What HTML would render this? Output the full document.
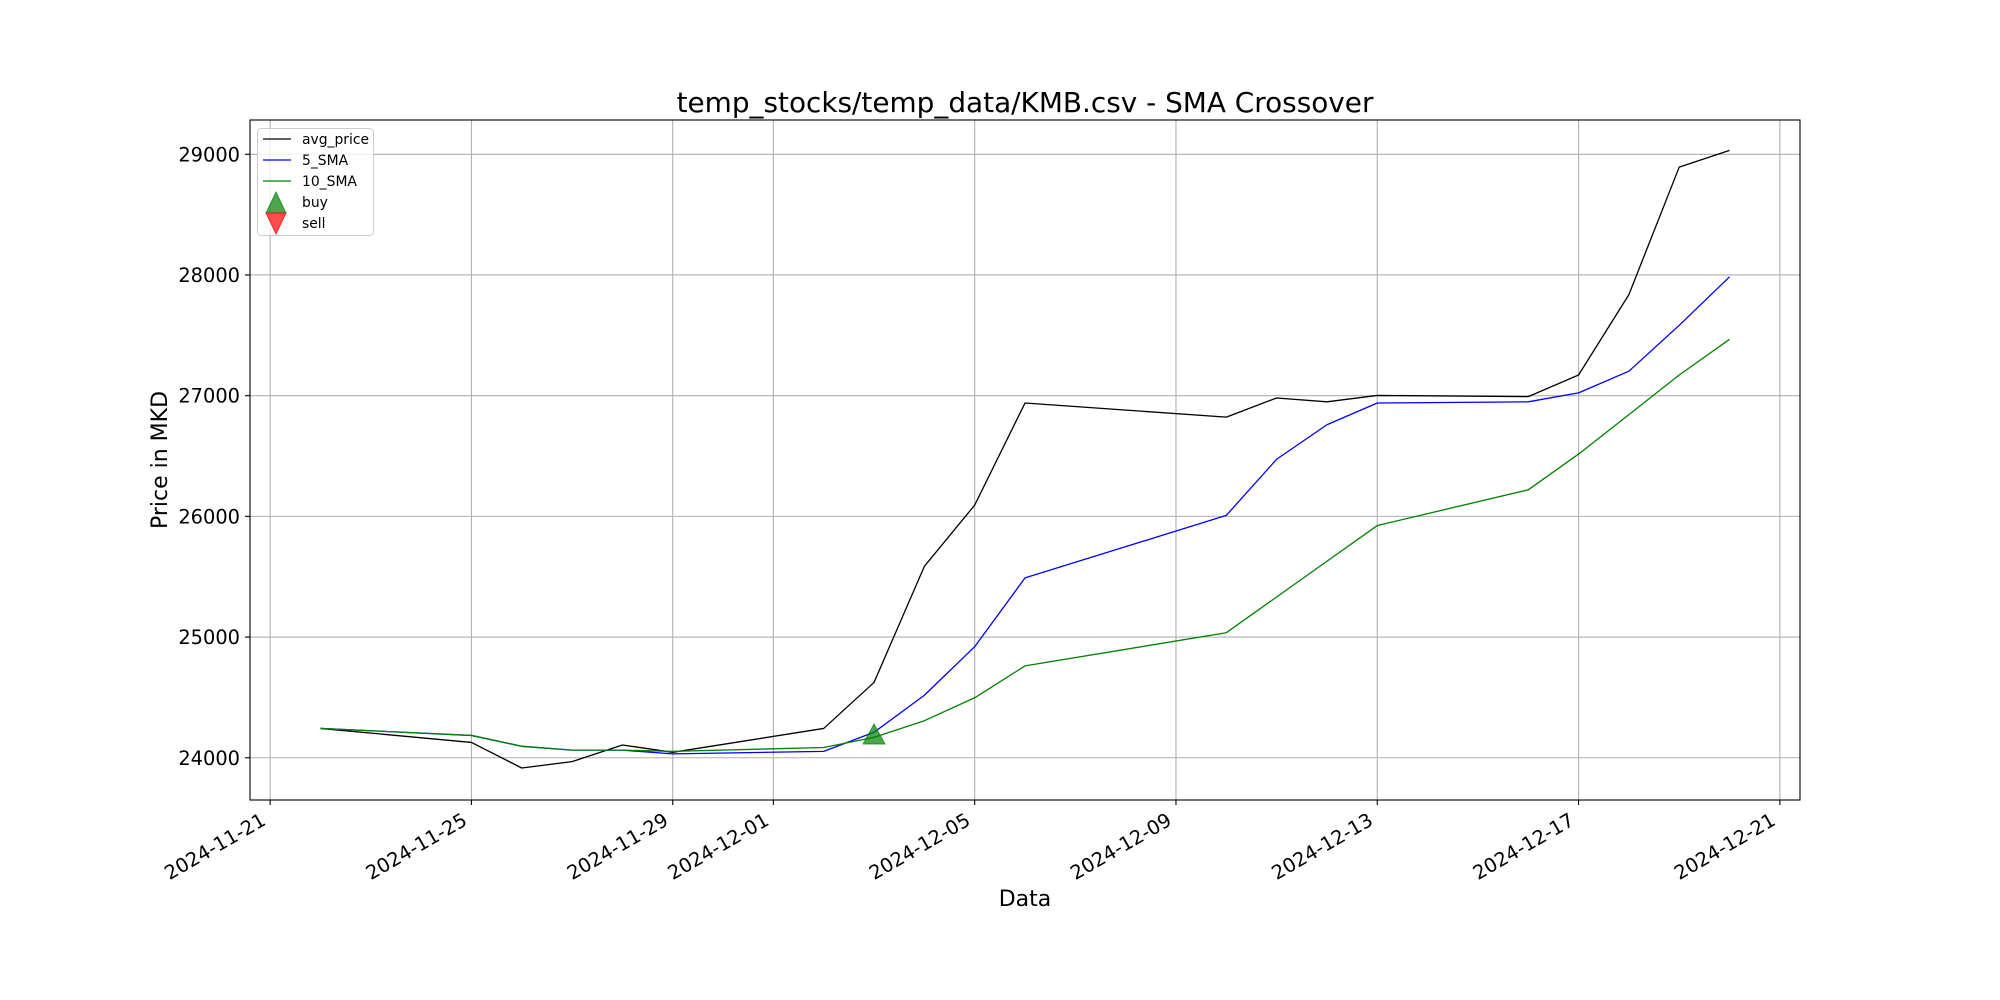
<!DOCTYPE html>
<html><head><meta charset="utf-8"><style>
body{margin:0;background:#fff}
svg{display:block;font-family:"DejaVu Sans","Liberation Sans",sans-serif}
</style></head><body>
<svg id="chart" width="2000" height="1000" viewBox="0 0 2000 1000" xmlns="http://www.w3.org/2000/svg">
<rect width="2000" height="1000" fill="#fff"/>
<g id="grid"></g>
<g id="series"></g>
<rect x="250" y="120" width="1550" height="680" fill="none" stroke="#000" stroke-width="1.1"/>
<g id="ticks"></g>
<text x="1025" y="112" font-size="27.9" text-anchor="middle">temp_stocks/temp_data/KMB.csv - SMA Crossover</text>
<text transform="translate(167,460) rotate(-90)" font-size="22" text-anchor="middle">Price in MKD</text>
<text x="1025" y="906" font-size="22" text-anchor="middle">Data</text>
<g>
<rect x="257.5" y="128.5" width="116" height="107" rx="4" fill="#fff" fill-opacity="0.8" stroke="#ccc" stroke-width="1"/>
<line x1="263" y1="139" x2="291" y2="139" stroke="#000" stroke-width="1.3"/>
<text x="302" y="144" font-size="13.9">avg_price</text>
<line x1="263" y1="160" x2="291" y2="160" stroke="#0000ff" stroke-width="1.3"/>
<text x="302" y="165" font-size="13.9">5_SMA</text>
<line x1="263" y1="181" x2="291" y2="181" stroke="#008000" stroke-width="1.3"/>
<text x="302" y="186" font-size="13.9">10_SMA</text>
<polygon points="276,192 266,213 286,213" fill="#008000" fill-opacity="0.7" stroke="#008000" stroke-opacity="0.7"/>
<text x="302" y="207" font-size="13.9">buy</text>
<polygon points="276,234 266,213 286,213" fill="#ff0000" fill-opacity="0.7" stroke="#ff0000" stroke-opacity="0.7"/>
<text x="302" y="228" font-size="13.9">sell</text>
</g>
</svg>
<script>
const dates=["2024-11-22","2024-11-25","2024-11-26","2024-11-27","2024-11-28","2024-11-29","2024-12-02","2024-12-03","2024-12-04","2024-12-05","2024-12-06","2024-12-10","2024-12-11","2024-12-12","2024-12-13","2024-12-16","2024-12-17","2024-12-18","2024-12-19","2024-12-20"];
const avgPrice=[24243,24127,23915,23968,24106,24045,24243,24624,25586,26093,26939,26822,26981,26949,27002,26992,27171,27837,28894,29032];
const sma5=[24243,24185,24095,24063,24063,24032,24053,24211,24518,24920,25490,26008,26473,26759,26939,26949,27023,27203,27583,27985];
const sma10=[24243,24185,24095,24063,24063,24053,24085,24169,24307,24497,24761,25036,25332,25628,25924,26220,26516,26843,27171,27467];
const buyDates=["2024-12-03"];
const buyValues=[24180];
const yTicks=[24000,25000,26000,27000,28000,29000];
const xTicks=["2024-11-21","2024-11-25","2024-11-29","2024-12-01","2024-12-05","2024-12-09","2024-12-13","2024-12-17","2024-12-21"];

const NS="http://www.w3.org/2000/svg";
const DAY=86400000, D0=Date.parse("2024-11-22");
function dayOf(s){return (Date.parse(s)-D0)/DAY;}
function xs(s){return 250+(dayOf(s)+1.4)*1550/30.8;}
function ys(v){return 800-(v-23650)/(29284-23650)*680;}
function mk(tag,attrs,parent){const e=document.createElementNS(NS,tag);for(const k in attrs)e.setAttribute(k,attrs[k]);parent.appendChild(e);return e;}
const grid=document.getElementById('grid'),series=document.getElementById('series'),ticks=document.getElementById('ticks');
yTicks.forEach(v=>{const y=ys(v);
 const g=mk('line',{x1:250,x2:1800,y1:y,y2:y,stroke:'#b0b0b0','stroke-width':1.1},grid);
 
 
 mk('line',{x1:245,x2:250,y1:y,y2:y,stroke:'#000','stroke-width':1.1},ticks);
 const t=mk('text',{x:240,y:y+7,'font-size':19.4,'text-anchor':'end'},ticks);t.textContent=v;
 
 
});
xTicks.forEach(s=>{const x=xs(s);
 const g=mk('line',{x1:x,x2:x,y1:120,y2:800,stroke:'#b0b0b0','stroke-width':1.1},grid);
 
 
 mk('line',{x1:x,x2:x,y1:800,y2:805,stroke:'#000','stroke-width':1.1},ticks);
 const t=mk('text',{transform:`translate(${x-3},${824}) rotate(-30)`,'font-size':19.4,'text-anchor':'end'},ticks);t.textContent=s;
 
 
});
function line(vals,color,name){
 const p=mk('polyline',{points:vals.map((v,i)=>xs(dates[i])+','+ys(v)).join(' '),fill:'none',stroke:color,'stroke-width':1.3,'stroke-linejoin':'round'},series);
 
 
}
line(avgPrice,'#000','avg-price-line');
line(sma5,'#0000ff','sma-5-line');
line(sma10,'#008000','sma-10-line');
buyDates.forEach((d,i)=>{const x=xs(d),y=ys(buyValues[i]);
 const m=mk('polygon',{points:`${x},${y-12} ${x-11},${y+8} ${x+11},${y+8}`,fill:'#008000','fill-opacity':0.7,stroke:'#008000','stroke-opacity':0.7},series);
 
 
});
</script>
</body></html>
